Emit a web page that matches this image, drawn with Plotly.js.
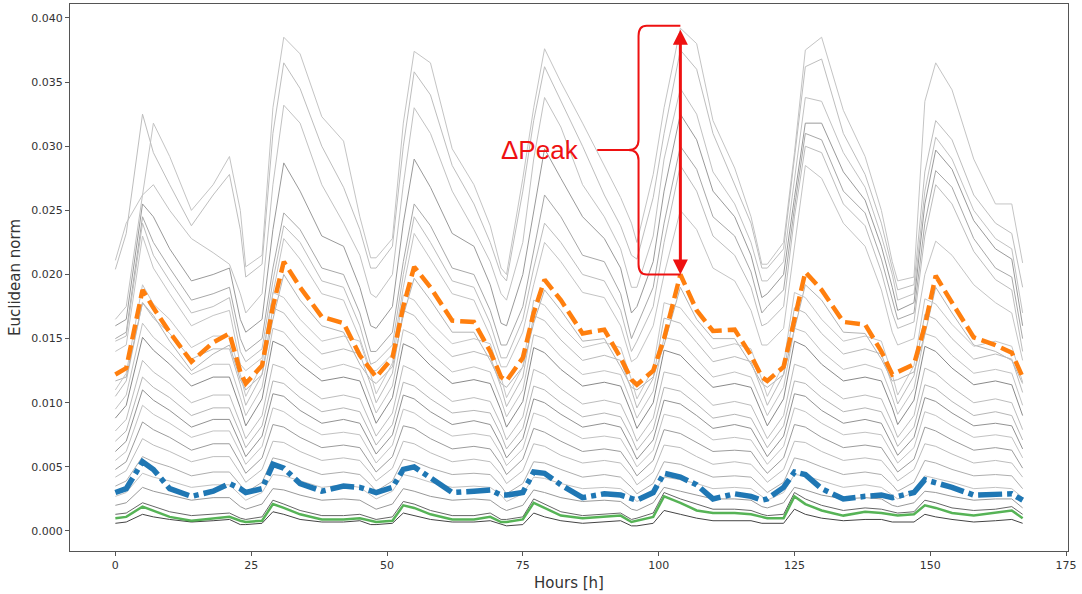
<!DOCTYPE html>
<html>
<head>
<meta charset="utf-8">
<script src="https://cdn.plot.ly/plotly-3.0.1.min.js"></script>
<style>html,body{margin:0;padding:0;background:#fff;}#chart{width:1082px;height:594px;}</style>
</head>
<body>
<div id="chart"></div>
<script>
// Hours sampled along the week (x values)
const hours = [0,2,5,7,10,14,18,21,23, 24,27,29,31,34,38,42,45,47, 48,51,53,55,58,62,66,69,71,
  72,75,77,79,82,86,90,93,95, 96,99,101,104,107,110,114,117,119, 120,123,125,127,130,134,138,141,143,
  144,147,149,151,154,158,162,165,167];

// values in units of 1e-4 (Euclidean norm)
const orange = [122,127,188,174,155,132,147,154,124, 115,129,175,210,190,167,162,137,125, 120,135,175,206,190,164,163,140,120,
  117,135,170,196,180,154,157,135,118, 114,125,150,200,172,156,157,137,120, 117,128,165,202,188,163,161,140,122,
  124,130,160,199,178,151,145,139,120];
const blue = [30,33,54,48,33,27,31,37,33, 30,33,52,49,37,31,35,34,31, 30,34,48,50,41,30,31,32,28,
  28,30,46,45,36,26,29,28,25, 24,30,45,42,36,25,29,27,24, 25,34,46,44,33,25,27,28,26,
  27,30,40,38,34,28,28,29,24];
const green = [10,11,19,16,11,8,10,11,8, 7,8,21,18,13,9,9,10,8, 7,8,20,18,13,9,9,11,7,
  7,9,22,18,12,10,11,12,7, 8,11,27,22,16,14,14,13,11, 10,10,27,21,16,12,15,14,13,
  12,13,20,18,14,12,14,16,10];

const g01 = [211,240,262,318,292,250,270,292,250, 206,215,330,385,372,323,304,245,213, 213,228,318,374,365,298,270,238,205,
  200,275,330,376,350,318,285,260,240, 225,278,330,392,380,320,283,245,208, 208,225,295,375,385,328,292,250,210,
  195,198,335,365,344,290,255,255,209];
const g02 = [204,232,325,295,270,238,262,278,235, 198,208,310,365,345,300,268,235,205, 205,222,300,358,340,285,255,225,200,
  195,265,320,362,335,300,262,238,215, 212,260,310,375,360,310,270,240,205, 205,220,290,362,368,310,278,240,205,
  188,192,280,320,305,262,240,232,190];
const g03 = [165,175,262,270,250,228,217,208,185, 170,185,270,332,318,270,240,215,185, 182,200,270,330,310,265,235,210,185,
  180,225,290,338,315,270,245,220,190, 190,230,290,345,325,280,255,225,195, 195,210,275,338,335,295,268,230,200,
  180,185,265,307,290,250,228,220,170];
const g04 = [160,165,255,245,220,195,200,205,165, 155,165,235,287,265,230,222,190,160, 158,175,240,290,268,232,222,192,162,
  160,200,250,298,275,245,228,205,170, 175,210,265,325,305,265,245,215,182, 185,200,260,318,318,280,258,222,190,
  172,178,255,297,282,242,220,212,160];
const g05 = [150,155,245,225,205,180,185,190,150, 140,150,205,248,235,205,200,170,140, 140,155,210,255,238,205,200,172,145,
  145,175,220,262,245,215,210,185,150, 160,190,240,300,282,245,230,202,170, 175,188,252,310,305,265,248,212,180,
  165,170,240,281,268,228,205,198,150];
const g06 = [148,152,240,215,195,170,175,182,140, 132,142,195,238,225,195,190,160,130, 132,145,200,245,225,195,190,162,135,
  135,165,205,240,225,200,195,172,140, 148,175,225,285,265,230,215,190,160, 162,175,245,300,295,255,238,202,170,
  158,163,230,270,255,218,196,188,140];
const g07 = [140,145,230,205,185,160,168,172,130, 125,135,185,228,212,185,180,150,125, 125,138,190,232,212,185,180,152,128,
  128,155,192,225,210,186,182,160,132, 135,160,200,250,235,205,195,172,145, 145,158,220,285,275,240,222,188,155,
  145,150,200,226,215,192,178,170,133];
const g08 = [117,120,178,168,148,125,138,145,118, 110,122,165,200,180,160,155,130,118, 115,128,168,197,180,155,155,133,115,
  112,128,162,188,172,148,150,128,112, 110,120,145,190,165,150,150,130,115, 112,122,158,192,180,155,154,134,117,
  118,124,153,190,170,145,140,133,115];
const g09 = [110,123,192,177,165,143,152,152,122, 105,130,186,182,165,148,152,148,122, 107,131,184,180,163,146,150,146,120,
  104,128,180,176,160,143,147,143,118, 103,127,178,174,158,142,146,142,118, 105,130,186,182,165,148,152,148,122,
  106,129,181,177,161,144,148,144,116];
const g10 = [105,117,178,166,154,134,142,142,114, 98,122,174,170,154,138,142,138,114, 100,123,172,168,152,136,140,136,112,
  97,120,168,164,149,133,137,133,110, 96,119,166,162,147,132,136,132,110, 98,122,174,170,154,138,142,138,114,
  99,121,169,165,150,134,138,134,108];
const g11 = [95,106,162,151,140,122,130,130,104, 90,112,158,155,140,126,130,126,104, 92,113,157,153,139,124,128,124,102,
  89,110,153,150,136,122,125,122,100, 88,109,151,148,134,120,124,120,100, 90,112,158,155,140,126,130,126,104,
  91,111,154,151,137,123,126,123,98];
const g12 = [88,98,151,141,130,113,120,120,96, 82,103,148,144,130,117,120,117,96, 84,104,146,142,129,115,118,115,94,
  81,101,143,139,126,113,116,113,92, 80,100,141,137,124,112,115,112,92, 82,103,148,144,130,117,120,117,96,
  83,102,144,140,127,114,117,114,90];
const g13 = [78,87,133,124,115,100,106,106,84, 72,90,130,127,115,103,106,103,84, 74,92,129,125,114,101,104,101,83,
  71,89,126,122,111,99,102,99,81, 70,88,124,121,110,98,101,98,81, 72,90,130,127,115,103,106,103,84,
  73,90,127,123,112,100,103,100,79];
const g14 = [70,78,120,112,104,90,96,96,76, 65,82,117,115,104,93,96,93,76, 67,83,116,113,103,92,94,92,75,
  64,80,113,110,100,89,92,89,73, 63,79,112,109,99,88,91,88,73, 65,82,117,115,104,93,96,93,76,
  66,81,114,111,101,90,93,90,71];
const g15 = [62,70,110,102,94,81,87,87,68, 58,74,107,105,94,84,87,84,68, 60,75,106,103,93,83,86,83,67,
  57,72,103,100,91,81,84,81,65, 56,71,102,99,90,80,83,80,65, 58,74,107,105,94,84,87,84,68,
  59,73,104,101,92,82,84,82,64];
const g16 = [55,62,98,91,84,73,78,78,61, 52,66,96,93,84,75,77,75,61, 53,67,95,92,83,74,76,74,60,
  51,64,92,89,81,72,74,72,58, 50,63,91,88,80,71,73,71,58, 52,66,96,93,84,75,77,75,61,
  53,65,93,90,82,73,75,73,57];
const g17 = [48,54,85,79,73,63,68,68,53, 45,57,83,81,73,65,67,65,53, 46,58,82,80,72,64,66,64,52,
  44,56,80,77,70,62,64,62,50, 43,55,79,76,69,62,63,62,50, 45,57,83,81,73,65,67,65,53,
  46,56,81,78,71,63,65,63,49];
const g18 = [42,47,72,67,62,54,58,58,45, 38,48,70,69,62,55,57,55,45, 39,49,70,68,61,54,56,54,44,
  37,47,68,66,59,53,55,53,43, 36,46,67,65,58,52,54,52,43, 38,48,70,69,62,55,57,55,45,
  39,48,68,66,60,53,55,53,42];
const g19 = [35,39,58,54,50,43,46,46,36, 30,38,57,55,50,44,46,44,36, 31,39,56,54,49,44,45,44,35,
  29,37,54,53,48,42,44,42,34, 29,37,54,52,47,42,43,42,34, 30,38,57,55,50,44,46,44,36,
  31,38,55,53,48,43,44,43,33];
const g20 = [27,30,45,42,39,34,36,36,28, 24,30,44,43,39,34,36,34,28, 25,31,44,42,38,34,35,34,28,
  23,29,42,41,37,33,34,33,27, 23,29,42,40,37,33,34,33,27, 24,30,44,43,39,34,36,34,28,
  25,30,43,41,38,33,34,33,26];
const g21 = [20,22,34,31,28,24,26,26,19, 17,21,33,32,28,24,25,24,19, 17,21,33,31,27,24,25,24,18,
  16,20,32,30,26,23,24,23,17, 16,22,34,31,28,25,25,24,19, 18,22,34,32,28,25,26,25,20,
  19,22,31,30,27,24,25,25,18];
const g22 = [13,14,22,19,15,12,13,14,10, 9,11,24,21,16,12,12,13,10, 9,11,23,21,16,12,12,14,9,
  9,11,25,21,15,12,13,14,9, 10,14,30,25,21,17,17,16,13, 12,13,30,25,20,16,18,17,15,
  14,15,24,22,18,16,17,19,13];
const g23 = [6,7,13,11,9,7,8,9,5, 5,6,15,13,9,7,7,8,5, 5,6,14,12,9,7,7,8,5,
  4,5,14,11,8,6,7,8,4, 4,6,16,13,10,8,8,8,6, 6,6,17,13,10,8,9,9,7,
  7,7,13,11,9,7,8,9,6];

const grayLines = [g01,g02,g03,g04,g05,g06,g07,g08,g09,g10,g11,g12,g13,g14,g15,g16,g17,g18,g19,g20,g21,g22,g23];
const grayColors = ['#c4c4c4','#bebebe','#c2c2c2','#9a9a9a','#a8a8a8','#bdbdbd','#c4c4c4','#b4b4b4','#c6c6c6','#bbbbbb',
  '#c2c2c2','#8a8a8a','#bdbdbd','#b6b6b6','#939393','#c2c2c2','#9c9c9c','#bdbdbd','#aeaeae','#c2c2c2','#999999','#666666','#444444'];

const xTicks = [0,25,50,75,100,125,150,175];
const yTicks = [0,0.005,0.010,0.015,0.020,0.025,0.030,0.035,0.040];
const UNIT = 1e-4;
const scale = arr => arr.map(v => v * UNIT);

const traces = [];
grayLines.forEach((g, i) => {
  traces.push({x: hours, y: scale(g), type: 'scatter', mode: 'lines',
    line: {color: grayColors[i], width: 1}, hoverinfo: 'skip', showlegend: false});
});
traces.push({x: hours, y: scale(orange), type: 'scatter', mode: 'lines',
  line: {color: '#ff7f0e', width: 4.5, dash: '15px,6px'}, hoverinfo: 'skip', showlegend: false});
traces.push({x: hours, y: scale(blue), type: 'scatter', mode: 'lines',
  line: {color: '#1f77b4', width: 5.5, dash: '24px,5px,5px,5px'}, hoverinfo: 'skip', showlegend: false});
traces.push({x: hours, y: scale(green), type: 'scatter', mode: 'lines',
  line: {color: '#2ca02c', width: 2.5}, opacity: 0.8, hoverinfo: 'skip', showlegend: false});

// ΔPeak annotation anchored on the data (day-5 peak hour)
const peakHour = 104;
const pi = hours.indexOf(peakHour);
const peakTop = g01[pi] * UNIT;
const peakBottom = orange[pi] * UNIT;
const yT = peakTop + 0.0002, yB = peakBottom, yM = 0.0297;
const xb = 96.3, xc = 94.4, xt = 88.7, xa = peakHour;
const bracePath = `M ${xa},${yT} L ${xb+1.5},${yT} Q ${xb},${yT} ${xb},${yT-0.0008} L ${xb},${yM+0.0008} Q ${xb},${yM} ${xc},${yM} ` +
  `Q ${xb},${yM} ${xb},${yM-0.0008} L ${xb},${yB+0.0008} Q ${xb},${yB} ${xb+1.5},${yB} L ${xa},${yB} M ${xt},${yM} L ${xc},${yM}`;

const axisFont = {family: 'DejaVu Sans, sans-serif', size: 11, color: '#333'};
const layout = {
  width: 1082, height: 594,
  margin: {l: 70, r: 14, t: 4, b: 43},
  paper_bgcolor: '#fff', plot_bgcolor: '#fff',
  xaxis: {range: [-8.35, 175.35], tickvals: xTicks, ticktext: xTicks.map(String),
    showline: true, mirror: true, linecolor: '#555', linewidth: 1, ticks: 'outside', ticklen: 4, tickcolor: '#555',
    showgrid: false, zeroline: false, tickfont: axisFont,
    title: {text: 'Hours [h]', font: {family: 'DejaVu Sans, sans-serif', size: 15, color: '#333'}, standoff: 6}},
  yaxis: {range: [-0.00156, 0.04109], tickvals: yTicks, tickformat: '.3f',
    showline: true, mirror: true, linecolor: '#555', linewidth: 1, ticks: 'outside', ticklen: 4, tickcolor: '#555',
    showgrid: false, zeroline: false, tickfont: axisFont,
    title: {text: 'Euclidean norm', font: {family: 'DejaVu Sans, sans-serif', size: 15, color: '#333'}, standoff: 7}},
  shapes: [{type: 'path', xref: 'x', yref: 'y', path: bracePath, line: {color: '#ee1111', width: 2}}],
  annotations: [
    {x: xa, y: peakBottom, ax: xa, ay: peakTop, xref: 'x', yref: 'y', axref: 'x', ayref: 'y',
     text: '', showarrow: true, arrowhead: 2, startarrowhead: 2, arrowside: 'end+start',
     arrowwidth: 3, arrowsize: 1, startarrowsize: 1, arrowcolor: '#ee1111', standoff: 0, startstandoff: 0},
    {x: 78.2, y: yM, xref: 'x', yref: 'y', text: '\u0394Peak', showarrow: false,
     font: {family: 'Liberation Sans, Arial, sans-serif', size: 26, color: '#ee1111'}}
  ]
};
Plotly.newPlot('chart', traces, layout, {displayModeBar: false, staticPlot: true});
</script>
</body>
</html>
